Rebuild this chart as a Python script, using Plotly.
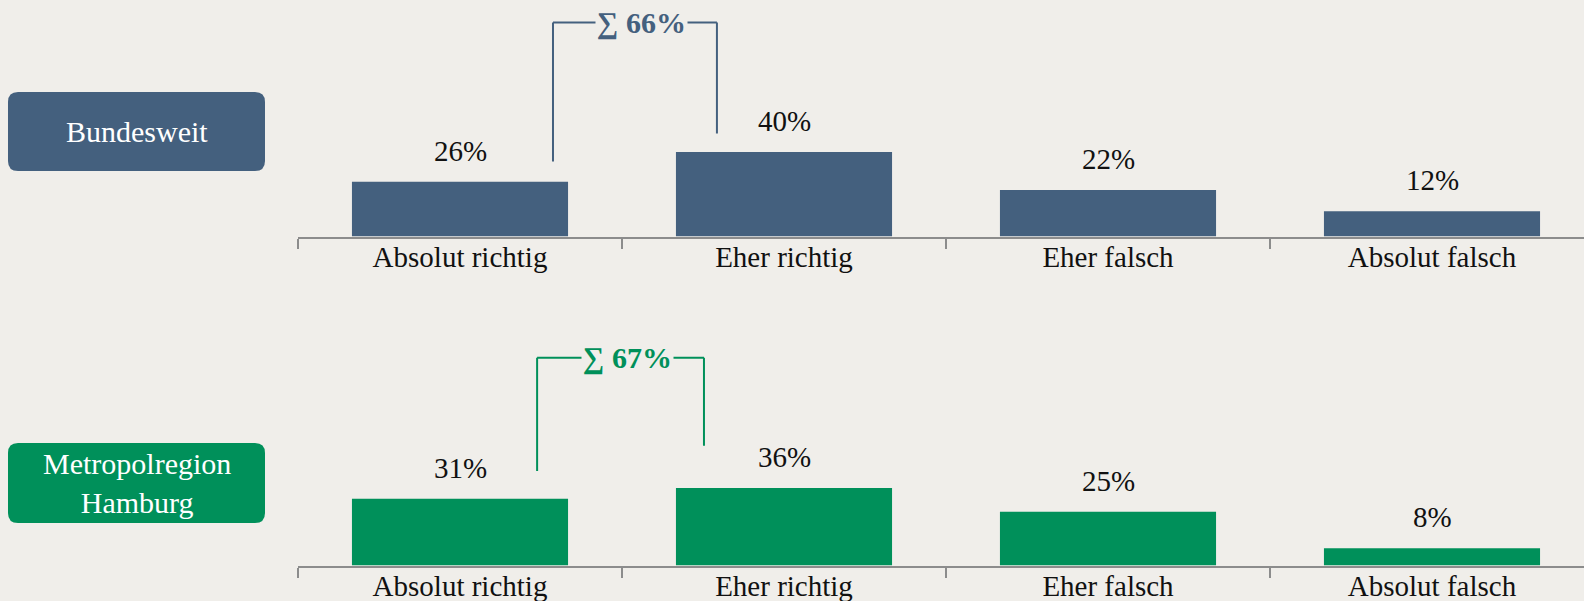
import plotly.graph_objects as go

# ---- data ----
categories = ["Absolut richtig", "Eher richtig", "Eher falsch", "Absolut falsch"]
bundesweit = [26, 40, 22, 12]
hamburg = [31, 36, 25, 8]
group_labels = ["Bundesweit", "Metropolregion<br>Hamburg"]

# ---- style ----
BG = "#f0eeea"
BLUE = "#44607e"
GREEN = "#00905a"
AXIS = "#8c8c8c"
FONT = "Liberation Serif, serif"
FS = 29
TXT = "#111111"
W, H = 1584, 601
CAT_PX = 324          # category width in px
X0_PX = 298           # left edge of the axis
YMAX = 110

panels = [
    dict(values=bundesweit, color=BLUE, label=group_labels[0], xa="x", ya="y",
         base_px=236.5, scale=2.11, box=(8, 92, 265, 171),
         bracket=dict(xl=0.287, xr=0.793, yl=35.5, yr=48.8, yt=101.4)),
    dict(values=hamburg, color=GREEN, label=group_labels[1], xa="x2", ya="y2",
         base_px=565.5, scale=2.15, box=(8, 443, 265, 523),
         bracket=dict(xl=0.238, xr=0.753, yl=44.0, yr=55.7, yt=96.6)),
]

fig = go.Figure()
shapes = []
annotations = []
layout_axes = {}


def rounded_rect(x0, y0, x1, y1, r):
    def P(px, py):
        return f"{px / W:.5f},{1 - py / H:.5f}"
    return (f"M {P(x0 + r, y0)} L {P(x1 - r, y0)} Q {P(x1, y0)} {P(x1, y0 + r)} "
            f"L {P(x1, y1 - r)} Q {P(x1, y1)} {P(x1 - r, y1)} "
            f"L {P(x0 + r, y1)} Q {P(x0, y1)} {P(x0, y1 - r)} "
            f"L {P(x0, y0 + r)} Q {P(x0, y0)} {P(x0 + r, y0)} Z")


for i, p in enumerate(panels):
    xa, ya = p["xa"], p["ya"]
    fig.add_bar(x=categories, y=p["values"], marker_color=p["color"],
                marker_line_width=0, width=0.667, xaxis=xa, yaxis=ya,
                hoverinfo="skip", showlegend=False)

    xname = "xaxis" if xa == "x" else "xaxis2"
    yname = "yaxis" if ya == "y" else "yaxis2"
    bottom = 1 - p["base_px"] / H
    top = 1 - (p["base_px"] - YMAX * p["scale"]) / H
    layout_axes[xname] = dict(
        domain=[X0_PX / W, 1], anchor=ya, type="category",
        range=[-0.5, -0.5 + (W - X0_PX) / CAT_PX],
        showline=True, linecolor=AXIS, linewidth=2,
        ticks="outside", tickson="boundaries", ticklen=10, tickwidth=2,
        tickcolor=AXIS, showgrid=False, zeroline=False, ticklabelstandoff=-6,
        tickfont=dict(family=FONT, size=FS, color=TXT),
    )
    layout_axes[yname] = dict(domain=[bottom, top], anchor=xa, range=[0, YMAX],
                              visible=False, showgrid=False, zeroline=False)

    # value labels
    for c, v in zip(categories, p["values"]):
        annotations.append(dict(x=c, y=v, xref=xa, yref=ya, text=f"{v}%",
                                showarrow=False, yanchor="bottom", yshift=13,
                                font=dict(family=FONT, size=FS, color=TXT)))

    # bracket
    b = p["bracket"]
    for (x0, y0, x1, y1) in [(b["xl"], b["yl"], b["xl"], b["yt"]),
                             (b["xl"], b["yt"], b["xr"], b["yt"]),
                             (b["xr"], b["yt"], b["xr"], b["yr"])]:
        shapes.append(dict(type="line", xref=xa, yref=ya, x0=x0, y0=y0, x1=x1, y1=y1,
                           line=dict(color=p["color"], width=2)))
    total = p["values"][0] + p["values"][1]
    annotations.append(dict(x=(b["xl"] + b["xr"]) / 2 + 0.02, y=b["yt"], xref=xa, yref=ya,
                            text=f"<b>∑ {total}%</b>", showarrow=False,
                            bgcolor=BG, borderpad=1,
                            font=dict(family=FONT, size=30, color=p["color"])))

    # group label box
    bx0, by0, bx1, by1 = p["box"]
    shapes.append(dict(type="path", xref="paper", yref="paper",
                       path=rounded_rect(bx0, by0, bx1, by1, 10),
                       fillcolor=p["color"], line=dict(width=0), layer="below"))
    annotations.append(dict(x=(bx0 + bx1) / 2 / W, y=1 - (by0 + by1) / 2 / H,
                            xref="paper", yref="paper", text=p["label"],
                            showarrow=False, xanchor="center", yanchor="middle",
                            font=dict(family=FONT, size=30, color="white")))

fig.update_layout(
    width=W, height=H, margin=dict(l=0, r=0, t=0, b=0),
    paper_bgcolor=BG, plot_bgcolor=BG, bargap=0.333,
    shapes=shapes, annotations=annotations, showlegend=False,
    **layout_axes,
)

fig.write_html("out.html")
